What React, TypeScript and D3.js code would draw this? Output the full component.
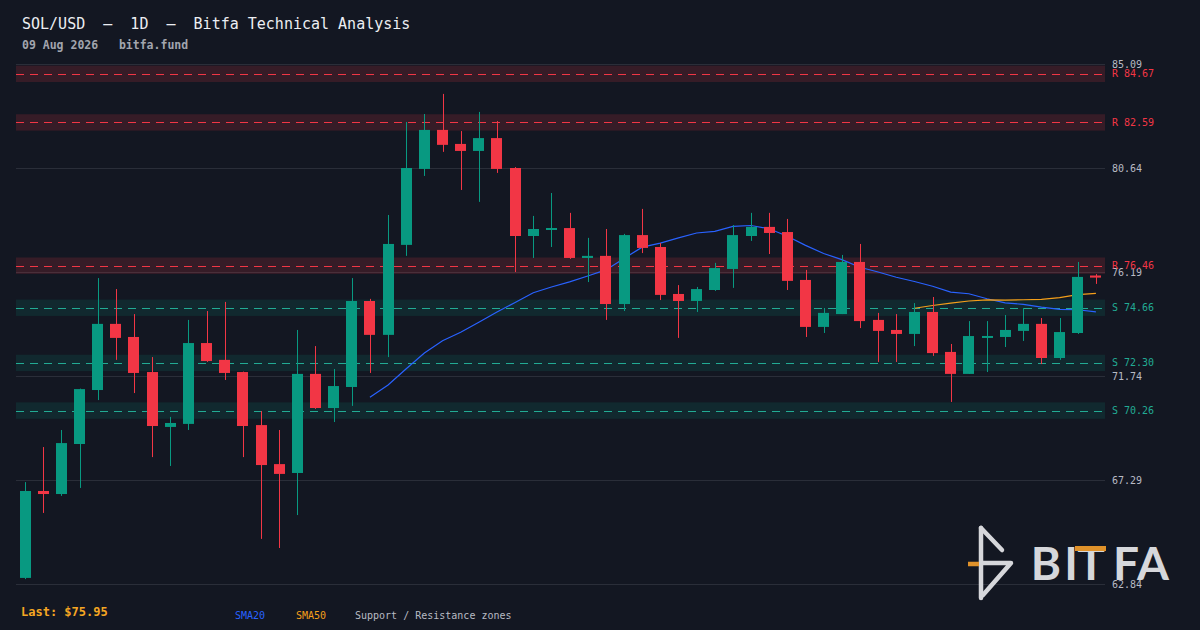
import React from "react";
import * as d3 from "d3";

// ---- Data ----
const opens = [
  63.10, 66.82, 66.69, 68.83, 71.14, 73.97, 73.41, 71.91, 69.56, 69.69,
  73.15, 72.43, 71.91, 69.64, 67.97, 67.59, 71.83, 70.37, 71.27, 74.95,
  73.50, 77.35, 80.60, 82.27, 81.67, 81.37, 81.92, 80.64, 77.73, 77.99,
  78.07, 76.79, 76.88, 74.82, 77.77, 77.26, 75.25, 74.95, 75.42, 76.32,
  77.73, 78.12, 77.90, 75.85, 73.84, 74.39, 76.62, 74.14, 73.71, 73.54,
  74.48, 72.77, 71.83, 73.37, 73.41, 73.67, 73.97, 72.51, 73.58, 76.04,
];
const highs = [
  67.20, 68.70, 69.43, 71.20, 75.93, 75.46, 74.39, 72.55, 69.99, 74.14,
  74.52, 74.91, 71.93, 70.24, 69.43, 73.71, 73.02, 72.04, 75.93, 75.04,
  78.63, 82.61, 82.95, 83.81, 82.22, 83.04, 82.65, 80.68, 78.59, 79.57,
  78.72, 77.65, 78.03, 77.82, 78.89, 77.43, 75.63, 75.55, 76.58, 78.20,
  78.72, 78.72, 78.46, 76.28, 74.65, 76.92, 77.39, 74.44, 74.39, 74.86,
  75.12, 73.11, 74.09, 74.09, 74.35, 74.65, 74.22, 74.22, 76.62, 76.10,
];
const lows = [
  63.05, 65.88, 66.61, 66.95, 70.71, 72.43, 71.01, 68.27, 67.89, 69.43,
  72.34, 71.57, 68.27, 64.77, 64.38, 65.79, 70.33, 69.77, 70.46, 71.87,
  72.55, 76.88, 80.30, 81.33, 79.70, 79.19, 80.43, 76.19, 76.79, 77.26,
  76.75, 75.76, 74.14, 74.52, 77.00, 74.99, 73.37, 74.48, 75.38, 75.51,
  77.52, 76.96, 75.42, 73.41, 73.58, 74.39, 73.79, 72.34, 72.34, 73.02,
  72.60, 70.63, 71.83, 71.91, 72.98, 73.24, 72.25, 72.43, 73.54, 75.68,
];
const closes = [
  66.82, 66.69, 68.87, 71.18, 73.97, 73.37, 71.87, 69.60, 69.73, 73.15,
  72.38, 71.87, 69.60, 67.93, 67.55, 71.83, 70.37, 71.31, 74.95, 73.50,
  77.39, 80.64, 82.27, 81.63, 81.37, 81.92, 80.60, 77.73, 78.03, 78.07,
  76.79, 76.88, 74.82, 77.77, 77.22, 75.21, 74.95, 75.46, 76.36, 77.77,
  78.12, 77.86, 75.81, 73.84, 74.44, 76.62, 74.09, 73.67, 73.54, 74.48,
  72.72, 71.83, 73.45, 73.45, 73.71, 73.97, 72.51, 73.62, 75.98, 75.95,
];
const yTicks = [62.84, 67.29, 71.74, 76.19, 80.64, 85.09];
const resistanceLevels = [84.67, 82.59, 76.46];
const supportLevels = [74.66, 72.30, 70.26];
const smaPeriods = [20, 50];
const lastPrice = 75.95;
const titleText = "SOL/USD  \u2014  1D  \u2014  Bitfa Technical Analysis";
const subtitleText = "09 Aug 2026   bitfa.fund";

// ---- Layout / style ----
const W = 1200;
const H = 630;
const plotLeft = 16;
const plotRight = 1105;
const plotTop = 64;
const plotBottom = 584;
const zoneHalf = 0.35;
const BG = "#131722";
const GRID = "#2a2e39";
const UP = "#089981";
const DOWN = "#f23645";
const SUP = "#22ab94";
const SMA_COLORS = ["#2962ff", "#f59f1a"];
const MONO = "'DejaVu Sans Mono', monospace";

function sma(values: number[], n: number): (number | null)[] {
  return values.map((_, i) =>
    i < n - 1 ? null : (d3.mean(values.slice(i - n + 1, i + 1)) as number)
  );
}

export default function App() {
  const idx = d3.range(closes.length);
  const x = d3
    .scaleBand<number>()
    .domain(idx)
    .range([plotLeft, plotRight])
    .paddingInner(0.4)
    .paddingOuter(0.2);
  const y = d3
    .scaleLinear()
    .domain([yTicks[0], yTicks[yTicks.length - 1]])
    .range([plotBottom, plotTop]);
  const bw = Math.round(x.bandwidth());
  const center = (i: number) => (x(i) as number) + x.bandwidth() / 2;

  const smaSeries = smaPeriods.map((p) => sma(closes, p));
  const line = d3
    .line<number | null>()
    .defined((d) => d != null)
    .x((_, i) => center(i))
    .y((d) => y(d as number));

  const zone = (lvl: number) => ({
    y0: y(lvl + zoneHalf),
    y1: y(lvl - zoneHalf),
  });

  return (
    <svg
      width={W}
      height={H}
      style={{ position: "absolute", left: 0, top: 0, display: "block" }}
    >
      <rect x={0} y={0} width={W} height={H} fill={BG} />

      {/* title */}
      <text x={22} y={29} fill="#eceef2" fontFamily={MONO} fontSize={15} xmlSpace="preserve">
        {titleText}
      </text>
      <text x={22} y={49} fill="#a2a5ae" fontFamily={MONO} fontSize={11.5} fontWeight="bold" xmlSpace="preserve">
        {subtitleText}
      </text>

      {/* grid */}
      {yTicks.map((t) => (
        <line
          key={"g" + t}
          x1={plotLeft}
          x2={plotRight}
          y1={Math.round(y(t)) + 0.5}
          y2={Math.round(y(t)) + 0.5}
          stroke={GRID}
          strokeWidth={1}
        />
      ))}

      {/* zones */}
      {resistanceLevels.map((l) => {
        const z = zone(l);
        return (
          <g key={"r" + l}>
            <rect x={plotLeft} y={z.y0} width={plotRight - plotLeft} height={z.y1 - z.y0} fill={DOWN} fillOpacity={0.16} />
            <line x1={plotLeft} x2={plotRight} y1={Math.round(y(l)) + 0.5} y2={Math.round(y(l)) + 0.5} stroke={DOWN} strokeWidth={1} strokeDasharray="8 6" />
          </g>
        );
      })}
      {supportLevels.map((l) => {
        const z = zone(l);
        return (
          <g key={"s" + l}>
            <rect x={plotLeft} y={z.y0} width={plotRight - plotLeft} height={z.y1 - z.y0} fill={UP} fillOpacity={0.14} />
            <line x1={plotLeft} x2={plotRight} y1={Math.round(y(l)) + 0.5} y2={Math.round(y(l)) + 0.5} stroke={SUP} strokeWidth={1} strokeDasharray="8 6" />
          </g>
        );
      })}

      {/* logo */}
      <g>
        <g stroke="#d6d7db" strokeWidth={4.5} fill="none" strokeLinecap="round" strokeLinejoin="round">
          <line x1={981} y1={528} x2={981} y2={598} />
          <line x1={981} y1={528} x2={1002} y2={550} />
          <polyline points="981,563 1011,563 983,595" />
        </g>
        <line x1={968} y1={564} x2={979} y2={564} stroke="#e0922a" strokeWidth={4.5} />
        <g fill="#d6d7db" fontFamily="Lato, 'Open Sans', sans-serif" fontSize={46} fontWeight="bold" textAnchor="middle">
          <text x={1046} y={580}>B</text>
          <text x={1071} y={580}>I</text>
          <text x={1091} y={580}>T</text>
          <text x={1126} y={580}>F</text>
          <text x={1153} y={580}>A</text>
        </g>
        <rect x={1075} y={546} width={31} height={5} fill="#e0922a" />
      </g>

      {/* SMA lines */}
      {smaSeries.map((s, k) => (
        <path key={"sma" + k} d={line(s) || ""} fill="none" stroke={SMA_COLORS[k]} strokeWidth={1.2} />
      ))}

      {/* candles */}
      {idx.map((i) => {
        const o = opens[i];
        const c = closes[i];
        const up = c >= o;
        const col = up ? UP : DOWN;
        const cxp = Math.round(center(i)) + 0.5;
        const top = y(Math.max(o, c));
        const bot = y(Math.min(o, c));
        const h = Math.max(2, bot - top);
        return (
          <g key={"c" + i}>
            <line x1={cxp} x2={cxp} y1={y(highs[i])} y2={y(lows[i])} stroke={col} strokeWidth={1} />
            <rect x={Math.round(center(i) - bw / 2)} y={top - (h - (bot - top)) / 2} width={bw} height={h} fill={col} />
          </g>
        );
      })}

      {/* right axis labels */}
      {yTicks.map((t) => (
        <text key={"t" + t} x={1112} y={y(t)} dy="0.35em" fill="#b8bbc4" fontFamily={MONO} fontSize={10}>
          {t.toFixed(2)}
        </text>
      ))}
      {resistanceLevels.map((l) => (
        <text key={"rl" + l} x={1112} y={y(l)} dy="0.35em" fill={DOWN} fontFamily={MONO} fontSize={10} xmlSpace="preserve">
          {"R " + l.toFixed(2)}
        </text>
      ))}
      {supportLevels.map((l) => (
        <text key={"sl" + l} x={1112} y={y(l)} dy="0.35em" fill={SUP} fontFamily={MONO} fontSize={10} xmlSpace="preserve">
          {"S " + l.toFixed(2)}
        </text>
      ))}

      {/* footer */}
      <text x={21} y={616} fill="#f5a623" fontFamily={MONO} fontSize={12} fontWeight="bold">
        {"Last: $" + lastPrice.toFixed(2)}
      </text>
      <text x={235} y={619} fill={SMA_COLORS[0]} fontFamily={MONO} fontSize={10}>SMA20</text>
      <text x={296} y={619} fill={SMA_COLORS[1]} fontFamily={MONO} fontSize={10}>SMA50</text>
      <text x={355} y={619} fill="#b8bbc4" fontFamily={MONO} fontSize={10}>Support / Resistance zones</text>
    </svg>
  );
}
